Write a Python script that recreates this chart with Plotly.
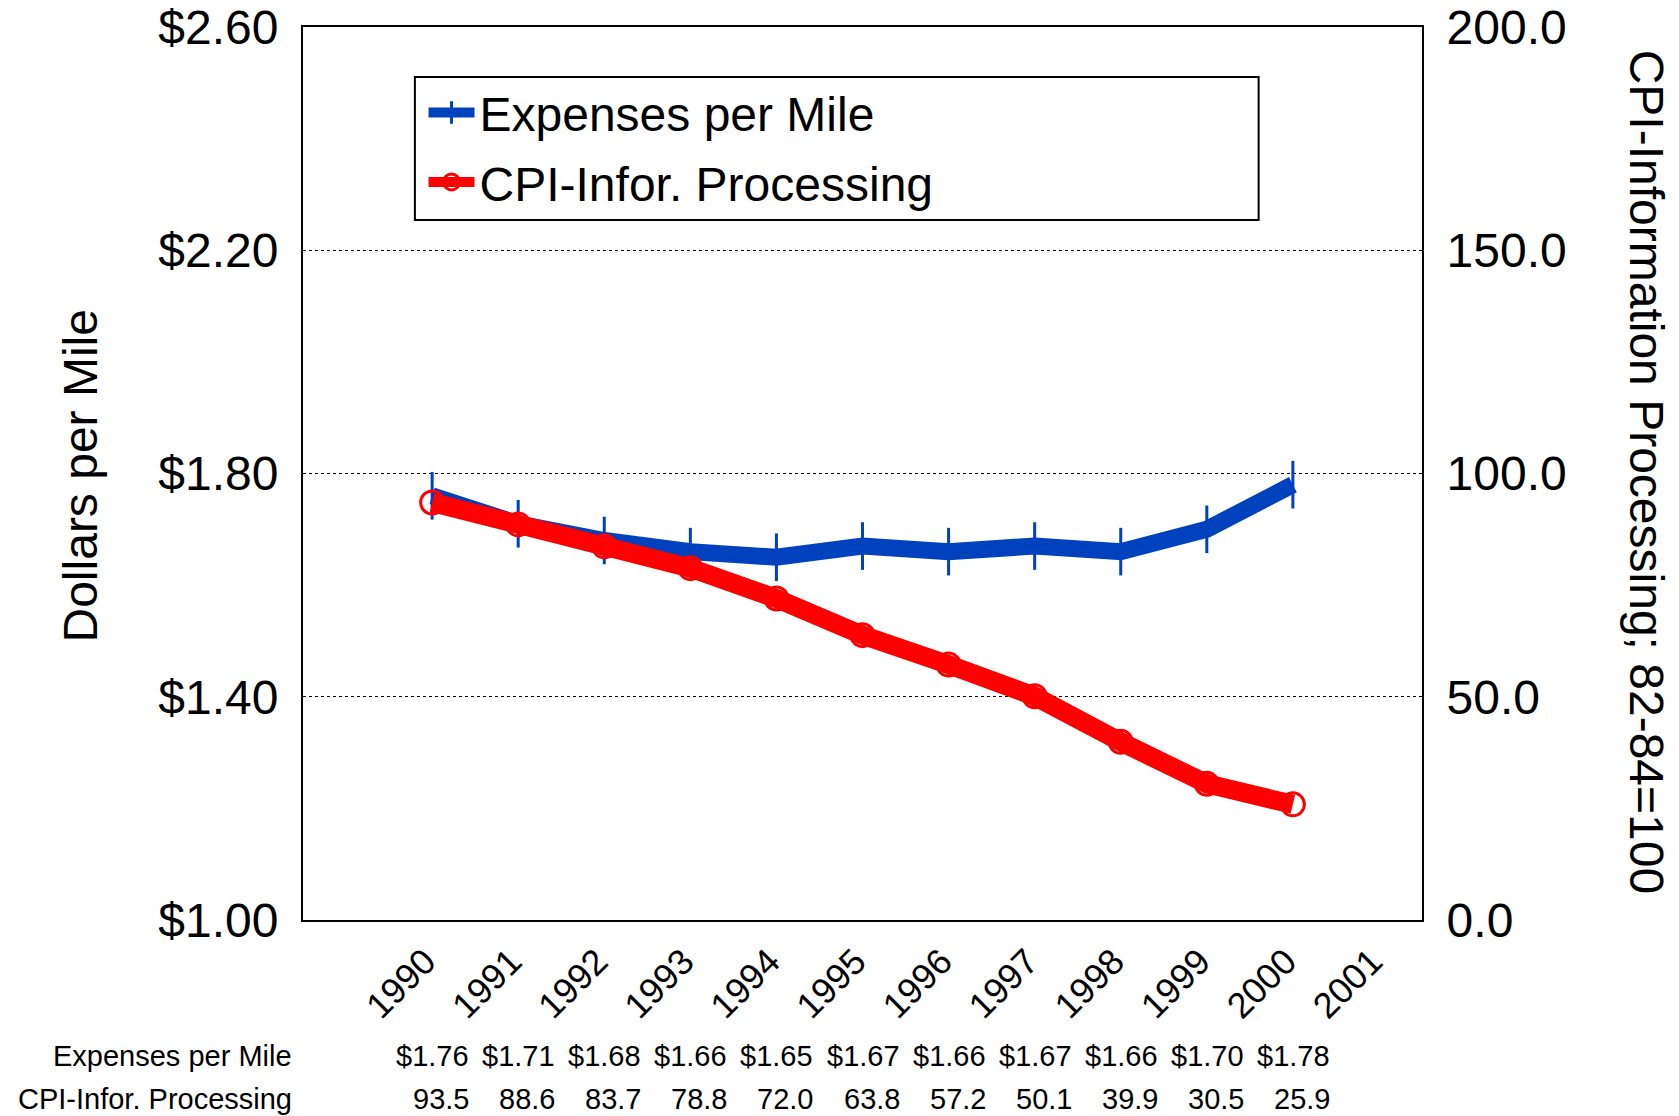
import plotly.graph_objects as go

years = [1990, 1991, 1992, 1993, 1994, 1995, 1996, 1997, 1998, 1999, 2000]
tick_years = [1990, 1991, 1992, 1993, 1994, 1995, 1996, 1997, 1998, 1999, 2000, 2001]
expenses = [1.76, 1.71, 1.68, 1.66, 1.65, 1.67, 1.66, 1.67, 1.66, 1.70, 1.78]
cpi = [93.5, 88.6, 83.7, 78.8, 72.0, 63.8, 57.2, 50.1, 39.9, 30.5, 25.9]

BLUE = "#0041BE"
RED = "#FF0000"
FONT = "Liberation Sans, Arial, sans-serif"

fig = go.Figure()
fig.add_trace(go.Scatter(
    x=years, y=cpi, name="CPI-Infor. Processing", yaxis="y2", mode="lines+markers",
    line=dict(color=RED, width=19),
    marker=dict(symbol="circle-open", size=23, color=RED, line=dict(color=RED, width=3)),
    legendrank=2, legendgroup="b",
))
fig.add_trace(go.Scatter(
    x=years, y=expenses, name="Expenses per Mile", yaxis="y", mode="lines+markers",
    line=dict(color=BLUE, width=17),
    marker=dict(symbol="line-ns", size=34, color=BLUE, line=dict(color=BLUE, width=3)),
    legendrank=1, legendgroup="a",
))

TF = 29
row1_y = -0.1523
row2_y = -0.2009
anns = []
anns.append(dict(text="Expenses per Mile", xref="paper", yref="paper", x=-0.0078, y=row1_y,
                 xanchor="right", yanchor="middle", showarrow=False, font=dict(size=TF, color="black")))
anns.append(dict(text="CPI-Infor. Processing", xref="paper", yref="paper", x=-0.0078, y=row2_y,
                 xanchor="right", yanchor="middle", showarrow=False, font=dict(size=TF, color="black")))
for yr, e, c in zip(years, expenses, cpi):
    anns.append(dict(text=f"${e:.2f}", xref="x", yref="paper", x=yr, y=row1_y, xshift=39,
                     xanchor="right", yanchor="middle", showarrow=False, font=dict(size=TF, color="black")))
    anns.append(dict(text=f"{c:.1f}", xref="x", yref="paper", x=yr, y=row2_y, xshift=39,
                     xanchor="right", yanchor="middle", showarrow=False, font=dict(size=TF, color="black")))
# axis titles
anns.append(dict(text="Dollars per Mile", xref="paper", yref="paper", x=-0.199, y=0.497,
                 textangle=-90, xanchor="center", yanchor="middle", showarrow=False,
                 font=dict(size=48, color="black")))
anns.append(dict(text="CPI-Information Processing; 82-84=100", xref="paper", yref="paper", x=1.2002, y=0.502,
                 textangle=90, xanchor="center", yanchor="middle", showarrow=False,
                 font=dict(size=48, color="black")))

fig.update_layout(
    width=1679, height=1116,
    margin=dict(l=303, r=257, t=27, b=196, autoexpand=False),
    paper_bgcolor="white", plot_bgcolor="white",
    font=dict(family=FONT, color="black"),
    showlegend=True,
    legend=dict(x=0.1077, y=0.9465, xanchor="left", yanchor="top", bgcolor="rgba(0,0,0,0)",
                borderwidth=0, font=dict(size=48), itemwidth=46, tracegroupgap=4,
                traceorder="grouped"),
    xaxis=dict(range=[1988.5, 2001.5], tickvals=tick_years, ticktext=[str(y) for y in tick_years],
               tickangle=-45, tickfont=dict(size=36), showgrid=False, zeroline=False,
               showline=True, linecolor="black", linewidth=2, mirror=True, ticks="",
               ticklabelstandoff=4, ticklabelshift=-7, automargin=False, ticklabeloverflow="allow"),
    yaxis=dict(range=[1.0, 2.6], dtick=0.4, tick0=1.0, tickformat="$.2f", tickfont=dict(size=48),
               showgrid=True, gridcolor="black", griddash="dot", gridwidth=1, zeroline=False,
               showline=True, linecolor="black", linewidth=2, ticks="", ticklabelstandoff=13,
               automargin=False, ticklabeloverflow="allow"),
    yaxis2=dict(range=[0, 200], dtick=50, tick0=0, tickformat=".1f", tickfont=dict(size=48),
                overlaying="y", side="right", showgrid=False, zeroline=False,
                showline=True, linecolor="black", linewidth=2, ticks="", ticklabelstandoff=13,
                automargin=False, ticklabeloverflow="allow"),
    annotations=anns,
    shapes=[dict(type="rect", xref="paper", yref="paper", x0=0.1, x1=0.854, y0=0.784, y1=0.944,
                 line=dict(color="black", width=2), fillcolor="rgba(0,0,0,0)", layer="above")],
)

fig.write_html("out.html", config={"displayModeBar": False},
               post_script="document.body.style.margin='0';document.body.style.overflow='hidden';")
